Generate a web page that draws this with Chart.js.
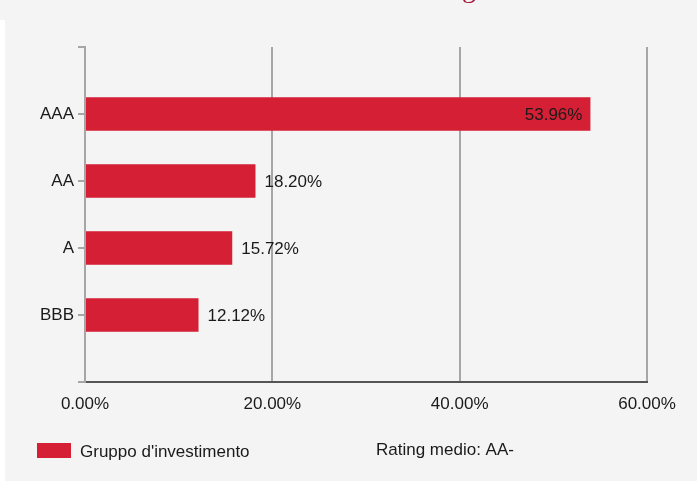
<!DOCTYPE html>
<html>
<head>
<meta charset="utf-8">
<script src="https://cdn.jsdelivr.net/npm/chart.js@4/dist/chart.umd.min.js"></script>
<style>
  html, body { margin: 0; padding: 0; background: #fff; }
  #wrap { width: 697px; height: 481px; }
</style>
</head>
<body>
<div id="wrap"><canvas id="ratingChart" width="697" height="481"></canvas></div>
<script>
// ripartizione per rating
var ratings = ['AAA', 'AA', 'A', 'BBB'];
var quote = [53.96, 18.20, 15.72, 12.12];
var xTicks = [0, 20, 40, 60];
var serieLabel = "Gruppo d'investimento";
var ratingMedio = 'Rating medio: AA-';

var rosso = '#d51f35';
var FONT = '"Liberation Sans", Arial, sans-serif';

// sfondo grigio del riquadro
var sfondo = {
  id: 'sfondo',
  beforeDraw: function(chart) {
    var c = chart.ctx;
    c.save();
    c.fillStyle = '#ffffff';
    c.fillRect(0, 0, chart.width, chart.height);
    c.fillStyle = '#f4f4f4';
    c.fillRect(5, 0, chart.width - 5, chart.height);
    c.fillRect(0, 0, 5, 20);
    c.restore();
  }
};

// etichette dei valori + legenda in basso + titolo tagliato
var etichette = {
  id: 'etichette',
  afterDatasetsDraw: function(chart) {
    var c = chart.ctx;
    var meta = chart.getDatasetMeta(0);
    c.save();
    c.font = '17px ' + FONT;
    c.fillStyle = '#1a1a1a';
    c.textBaseline = 'middle';
    meta.data.forEach(function(bar, i) {
      var txt = quote[i].toFixed(2) + '%';
      if (quote[i] > 40) {
        c.textAlign = 'right';
        c.fillText(txt, bar.x - 8, bar.y + 1);
      } else {
        c.textAlign = 'left';
        c.fillText(txt, bar.x + 9, bar.y + 1);
      }
    });
    c.restore();
  },
  afterDraw: function(chart) {
    var c = chart.ctx;
    c.save();
    c.fillStyle = chart.data.datasets[0].backgroundColor;
    c.fillRect(37, 443, 34, 15);
    c.font = '17px ' + FONT;
    c.fillStyle = '#1a1a1a';
    c.textAlign = 'left';
    c.textBaseline = 'alphabetic';
    c.fillText(chart.data.datasets[0].label, 80, 457);
    c.fillText(ratingMedio, 376, 455);
    // titolo sopra il grafico
    c.font = '28px "Liberation Serif", serif';
    c.fillStyle = '#a51a3a';
    c.textAlign = 'right';
    c.fillText('Rating', 476, -3);
    c.restore();
  }
};

var ctx = document.getElementById('ratingChart').getContext('2d');
new Chart(ctx, {
  type: 'bar',
  data: {
    datasets: [{
      label: serieLabel,
      data: quote.map(function(v, i) { return { x: v, y: i }; }),
      backgroundColor: rosso,
      borderWidth: 0,
      barPercentage: 0.5,
      categoryPercentage: 1
    }]
  },
  options: {
    indexAxis: 'y',
    responsive: false,
    animation: false,
    layout: { padding: { top: 47, right: 50, bottom: 69, left: 0 } },
    plugins: {
      legend: { display: false },
      tooltip: { enabled: false }
    },
    scales: {
      x: {
        type: 'linear',
        min: xTicks[0],
        max: xTicks[xTicks.length - 1],
        afterBuildTicks: function(scale) {
          scale.ticks = xTicks.map(function(v) { return { value: v }; });
        },
        afterFit: function(scale) { scale.height = 30; },
        grid: { color: '#a6a6a6', lineWidth: 2, drawTicks: false },
        border: { color: '#555555', width: 2 },
        ticks: {
          padding: 12,
          color: '#1a1a1a',
          font: { family: FONT, size: 17 },
          callback: function(v) { return v.toFixed(2) + '%'; }
        }
      },
      y: {
        type: 'linear',
        reverse: true,
        min: -1,
        max: ratings.length,
        offset: false,
        afterFit: function(scale) { scale.width = 85; },
        grid: { drawOnChartArea: false, offset: false, color: '#a6a6a6', lineWidth: 2, tickLength: 7 },
        border: { color: '#a6a6a6', width: 2 },
        ticks: {
          stepSize: 1,
          padding: 4,
          color: '#1a1a1a',
          font: { family: FONT, size: 17 },
          callback: function(v) { return ratings[v] !== undefined ? ratings[v] : ''; }
        }
      }
    }
  },
  plugins: [sfondo, etichette]
});
</script>
</body>
</html>
